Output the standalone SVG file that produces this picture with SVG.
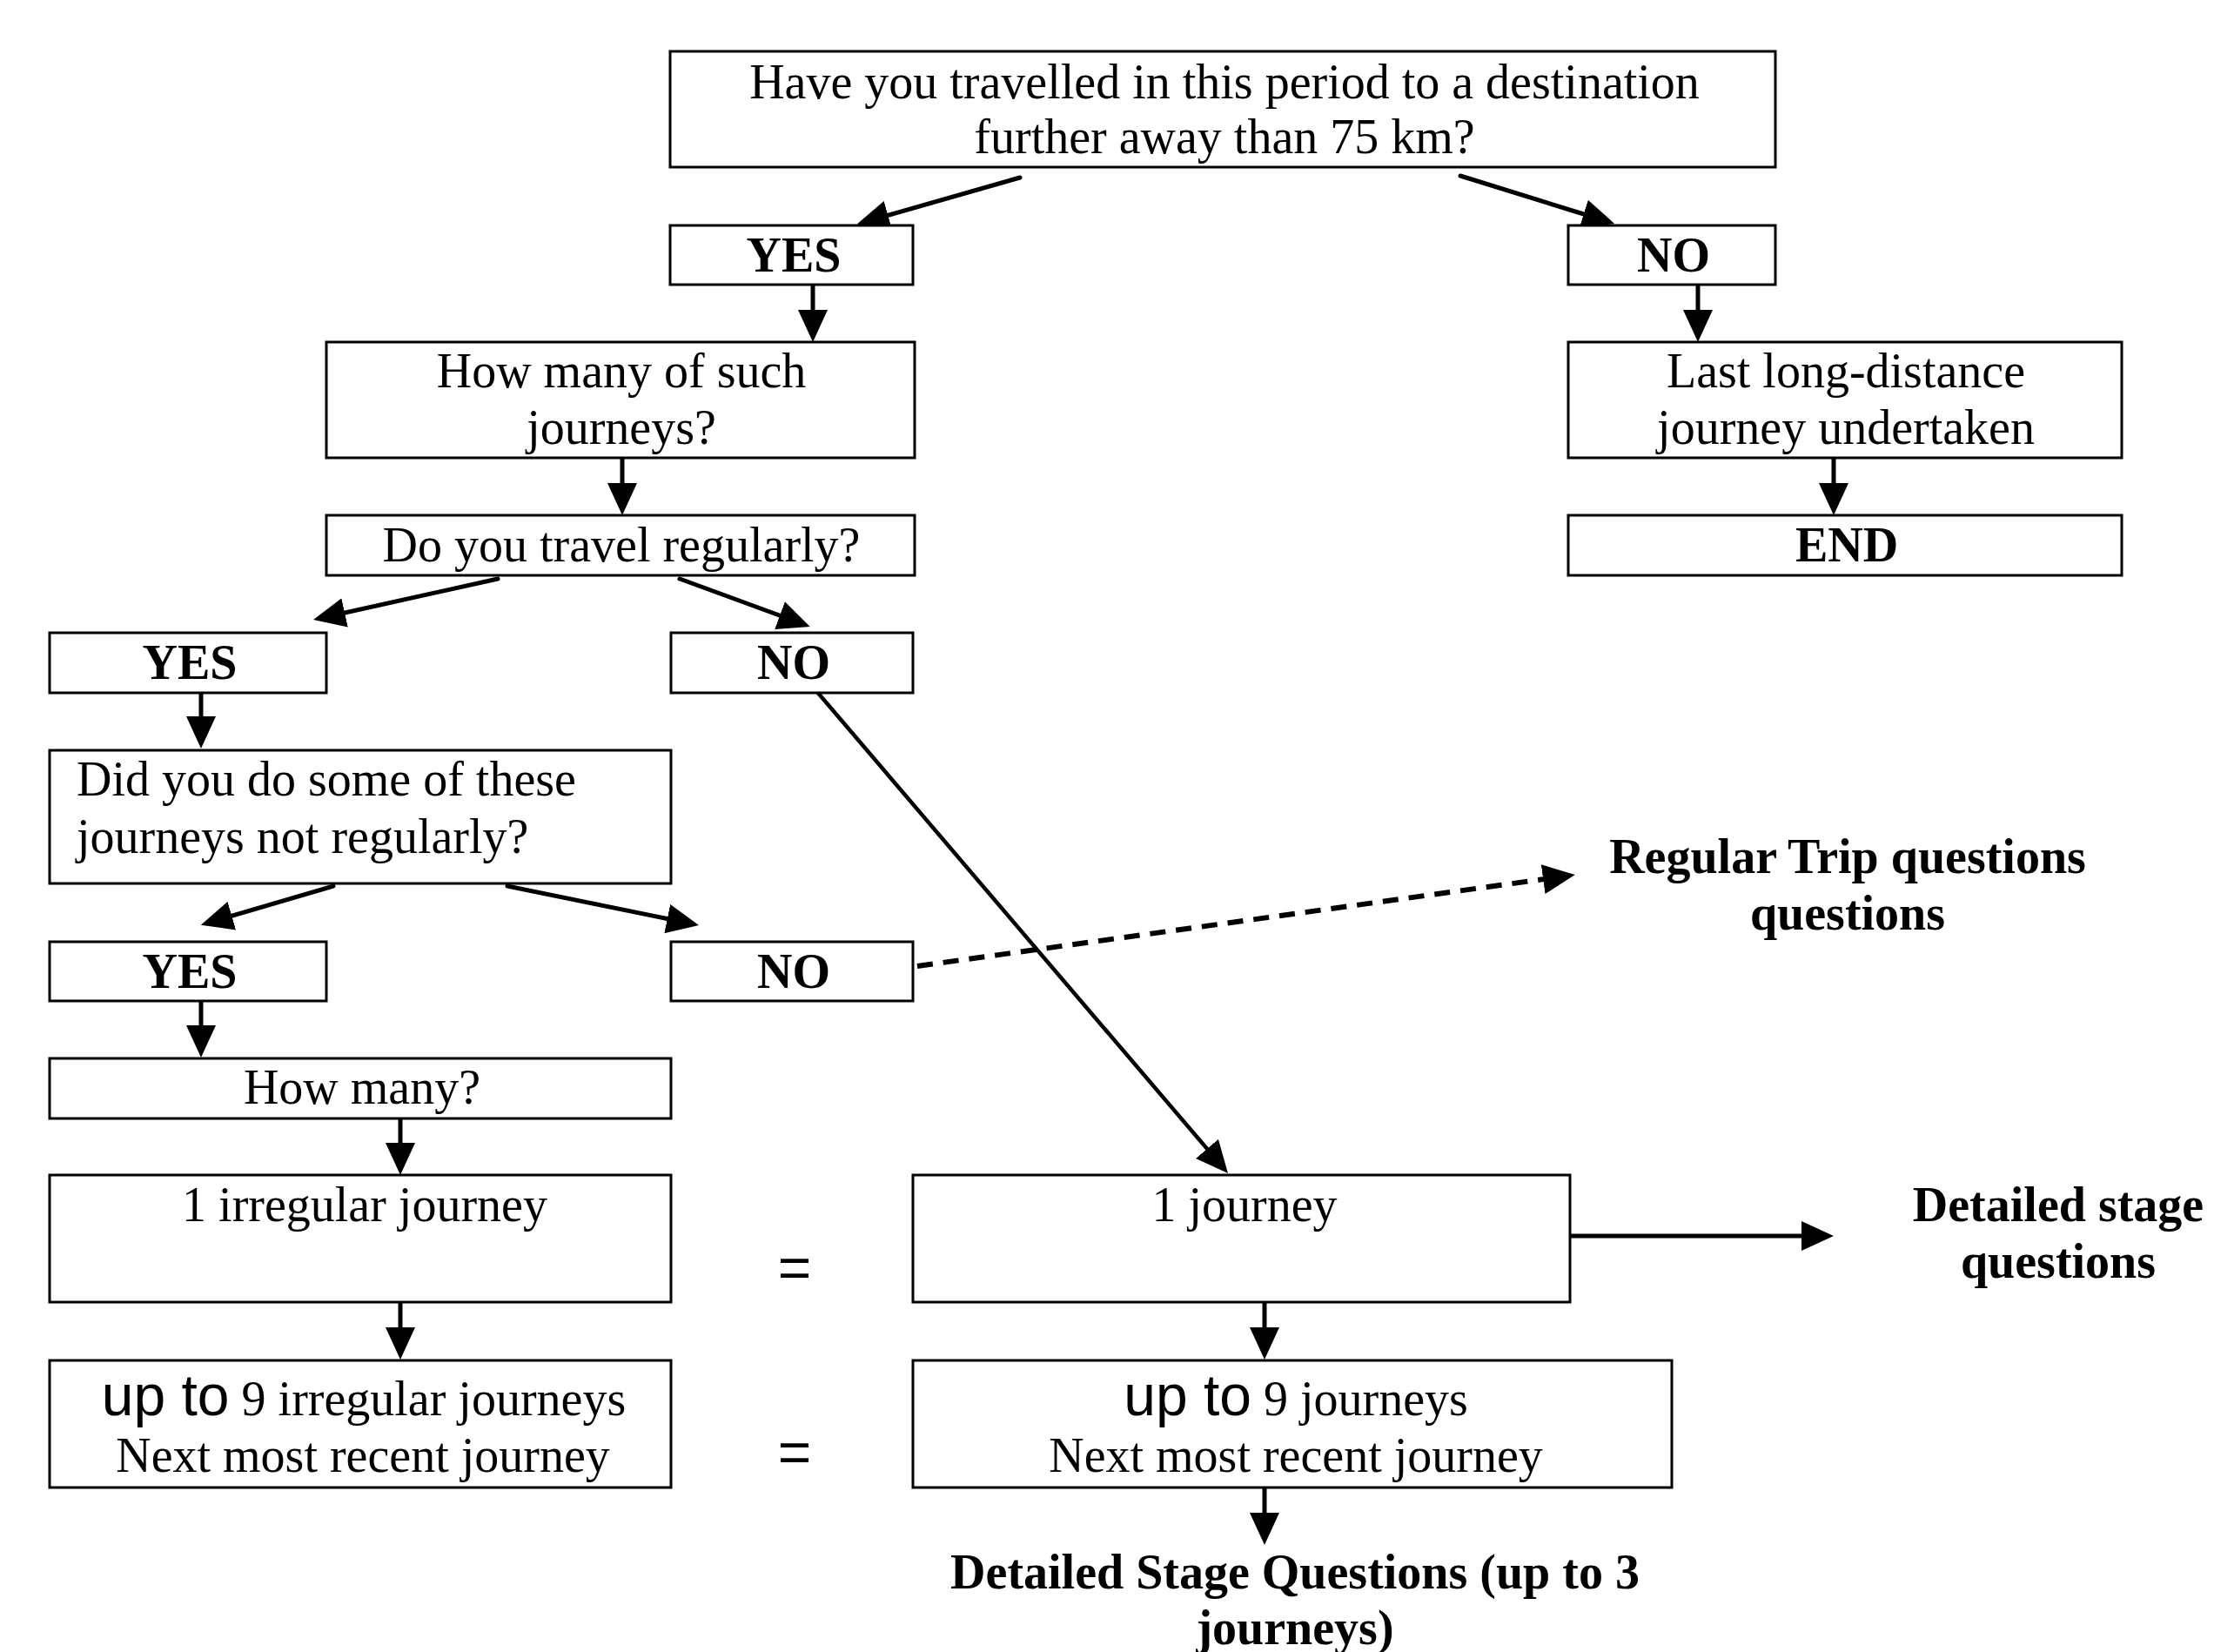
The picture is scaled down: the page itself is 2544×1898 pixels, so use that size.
<svg xmlns="http://www.w3.org/2000/svg" width="2544" height="1898" viewBox="0 0 2544 1898">
<style>
.box{fill:#fff;stroke:#000;stroke-width:3}
.t{font-family:"Liberation Serif","Times New Roman",serif;font-size:56px;text-anchor:middle;fill:#000}
.l{text-anchor:start}
.b{font-weight:bold}
.s{font-family:"Liberation Sans",Arial,sans-serif;font-size:66px}
.c{stroke:#000;stroke-width:5;fill:none;stroke-linecap:round;marker-end:url(#ah)}
.thin{stroke-width:4.5}
.dash{stroke-width:6;stroke-dasharray:18 12;stroke-linecap:butt}
</style>
<defs>
<marker id="ah" markerUnits="userSpaceOnUse" markerWidth="37" markerHeight="34" viewBox="0 0 37 34" refX="17" refY="17" orient="auto">
<path d="M0,0 L37,17 L0,34 z" fill="#000"/>
</marker>
</defs>
<rect width="2544" height="1898" fill="#fff"/>
<g id="connectors">
<line class="c" x1="1172" y1="204" x2="1004" y2="252"/>
<line class="c" x1="1678" y1="202" x2="1836" y2="251"/>
<line class="c" x1="934" y1="327" x2="934" y2="373"/>
<line class="c" x1="1951" y1="327" x2="1951" y2="373"/>
<line class="c" x1="715" y1="526" x2="715" y2="572"/>
<line class="c" x1="2107" y1="526" x2="2107" y2="572"/>
<line class="c" x1="572" y1="665" x2="379.5" y2="707.7"/>
<line class="c" x1="781" y1="665" x2="912" y2="713"/>
<line class="c" x1="231" y1="796" x2="231" y2="840"/>
<line class="c" x1="383" y1="1018" x2="250" y2="1057"/>
<line class="c" x1="583" y1="1018" x2="783.4" y2="1059"/>
<line class="c" x1="231" y1="1150" x2="231" y2="1195"/>
<line class="c" x1="460" y1="1285" x2="460" y2="1330"/>
<line class="c" x1="460" y1="1490" x2="460" y2="1542"/>
<line class="c" x1="1453" y1="1492" x2="1453" y2="1542"/>
<line class="c" x1="1453" y1="1704" x2="1453" y2="1755"/>
<line class="c" x1="1806" y1="1420" x2="2087" y2="1420"/>
<line class="c thin" x1="933" y1="788" x2="1398" y2="1332.8"/>
<line class="c dash" x1="1054" y1="1110" x2="1790" y2="1007.8"/>
</g>
<g id="n-q1">
<rect class="box" x="770" y="59" width="1270" height="133"/>
<text class="t" x="1407" y="113">Have you travelled in this period to a destination</text>
<text class="t" x="1407" y="176">further away than 75 km?</text>
</g>
<g id="n-yes1">
<rect class="box" x="770" y="259" width="279" height="68"/>
<text class="t b" x="912" y="312">YES</text>
</g>
<g id="n-no1">
<rect class="box" x="1802" y="259" width="238" height="68"/>
<text class="t b" x="1923" y="312">NO</text>
</g>
<g id="n-howmanysuch">
<rect class="box" x="375" y="393" width="676" height="133"/>
<text class="t" x="714" y="445">How many of such</text>
<text class="t" x="714" y="510">journeys?</text>
</g>
<g id="n-last">
<rect class="box" x="1802" y="393" width="636" height="133"/>
<text class="t" x="2121" y="445">Last long-distance</text>
<text class="t" x="2121" y="510">journey undertaken</text>
</g>
<g id="n-regular">
<rect class="box" x="375" y="592" width="676" height="69"/>
<text class="t" x="714" y="645">Do you travel regularly?</text>
</g>
<g id="n-end">
<rect class="box" x="1802" y="592" width="636" height="69"/>
<text class="t b" x="2122" y="645">END</text>
</g>
<g id="n-yes2">
<rect class="box" x="57" y="727" width="318" height="69"/>
<text class="t b" x="218" y="780">YES</text>
</g>
<g id="n-no2">
<rect class="box" x="771" y="727" width="278" height="69"/>
<text class="t b" x="912" y="780">NO</text>
</g>
<g id="n-notreg">
<rect class="box" x="57" y="862" width="714" height="153"/>
<text class="t l" x="88" y="914">Did you do some of these</text>
<text class="t l" x="88" y="980">journeys not regularly?</text>
</g>
<g id="n-yes3">
<rect class="box" x="57" y="1082" width="318" height="68"/>
<text class="t b" x="218" y="1135">YES</text>
</g>
<g id="n-no3">
<rect class="box" x="771" y="1082" width="278" height="68"/>
<text class="t b" x="912" y="1135">NO</text>
</g>
<g id="n-regtrip">
<text class="t b" x="2123" y="1003">Regular Trip questions</text>
<text class="t b" x="2123" y="1068">questions</text>
</g>
<g id="n-howmany">
<rect class="box" x="57" y="1216" width="714" height="69"/>
<text class="t" x="416" y="1268">How many?</text>
</g>
<g id="n-1irr">
<rect class="box" x="57" y="1350" width="714" height="146"/>
<text class="t" x="419" y="1403">1 irregular journey</text>
</g>
<g id="n-1j">
<rect class="box" x="1049" y="1350" width="755" height="146"/>
<text class="t" x="1430" y="1403">1 journey</text>
</g>
<g id="n-detstage">
<text class="t b" x="2365" y="1403">Detailed stage</text>
<text class="t b" x="2365" y="1468">questions</text>
</g>
<g id="n-9irr">
<rect class="box" x="57" y="1563" width="714" height="146"/>
<text class="t" x="418" y="1626"><tspan class="s">up to</tspan> 9 irregular journeys</text>
<text class="t" x="417" y="1691">Next most recent journey</text>
</g>
<g id="n-9j">
<rect class="box" x="1049" y="1563" width="872" height="146"/>
<text class="t" x="1489" y="1626"><tspan class="s">up to</tspan> 9 journeys</text>
<text class="t" x="1489" y="1691">Next most recent journey</text>
</g>
<g id="n-eq1"><text class="t s" x="913" y="1479">=</text></g>
<g id="n-eq2"><text class="t s" x="913" y="1691">=</text></g>
<g id="n-detstage3">
<text class="t b" x="1488" y="1825">Detailed Stage Questions (up to 3</text>
<text class="t b" x="1488" y="1889">journeys)</text>
</g>
</svg>
